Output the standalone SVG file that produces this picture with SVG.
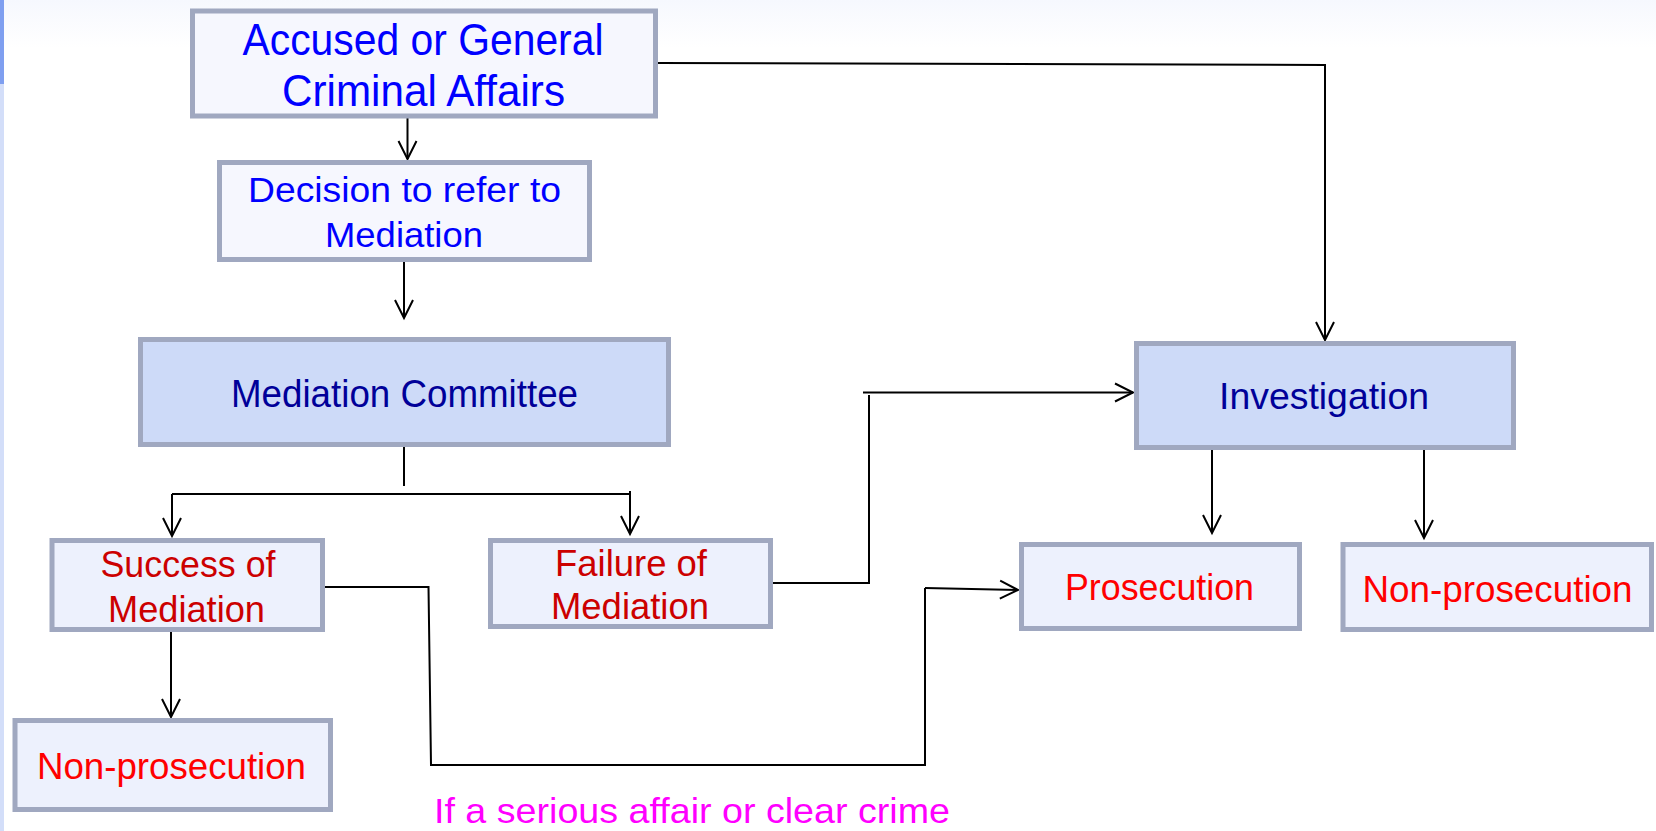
<svg xmlns="http://www.w3.org/2000/svg" width="1656" height="831" viewBox="0 0 1656 831">
  <defs>
    <linearGradient id="topband" x1="0" y1="0" x2="0" y2="1">
      <stop offset="0" stop-color="#f6f8fe"/>
      <stop offset="1" stop-color="#ffffff"/>
    </linearGradient>
    <marker id="arrow" markerUnits="userSpaceOnUse" markerWidth="24" markerHeight="24" viewBox="-20 -12 24 24" refX="0" refY="0" orient="auto" overflow="visible">
      <path d="M-18,-9 L0,0 L-18,9" fill="none" stroke="#000" stroke-width="2"/>
    </marker>
    <style>
      .box { stroke: #a0a8c0; stroke-width: 5; }
      .pale { fill: #f6f7fe; }
      .light { fill: #edf1fd; }
      .mid { fill: #cddaf8; }
      .lbl { font-family: "Liberation Sans", Arial, sans-serif; text-anchor: middle; }
      .blue { fill: #0000ff; }
      .navy { fill: #000099; }
      .dred { fill: #cc0000; }
      .red { fill: #ff0000; }
      .mag { fill: #ff00ff; }
      .wire { fill: none; stroke: #000; stroke-width: 2; }
      .arr { marker-end: url(#arrow); }
    </style>
  </defs>

  <!-- page background -->
  <rect x="0" y="0" width="1656" height="831" fill="#ffffff"/>
  <rect x="0" y="0" width="1656" height="48" fill="url(#topband)"/>
  <rect x="0" y="0" width="4" height="84" fill="#7f9ff0"/>
  <rect x="0" y="84" width="4" height="747" fill="#d3def9"/>

  <!-- connectors -->
  <g id="connectors">
    <path class="wire arr" d="M407.5,118 L407.5,159"/>
    <path class="wire arr" d="M404,262 L404,318"/>
    <path class="wire" d="M404,446 L404,486"/>
    <path class="wire" d="M172,494 L630,494"/>
    <path class="wire arr" d="M172,494 L172,536"/>
    <path class="wire arr" d="M630,491 L630,534"/>
    <path class="wire arr" d="M658,63 L1325,65 L1325,340"/>
    <path class="wire arr" d="M171,632 L171,717"/>
    <path class="wire" d="M325,587 L428.5,587 L431,765 L925,765 L925,588"/>
    <path class="wire arr" d="M925,588 L1018,590"/>
    <path class="wire" d="M773,583 L869,583"/>
    <path class="wire" d="M869,584 L869,395"/>
    <path class="wire arr" d="M863,392.5 L1133,392.5" stroke-width="3"/>
    <path class="wire arr" d="M1212,445 L1212,533"/>
    <path class="wire arr" d="M1424,450 L1424,538"/>
  </g>

  <g id="accused">
    <rect class="box pale" x="192.5" y="11" width="463" height="105"/>
    <text class="lbl blue" font-size="44" x="423" y="55" textLength="361" lengthAdjust="spacingAndGlyphs">Accused or General</text>
    <text class="lbl blue" font-size="44" x="423.5" y="106" textLength="283" lengthAdjust="spacingAndGlyphs">Criminal Affairs</text>
  </g>

  <g id="decision">
    <rect class="box pale" x="219.5" y="162.5" width="370" height="97"/>
    <text class="lbl blue" font-size="35" x="404.5" y="202" textLength="313" lengthAdjust="spacingAndGlyphs">Decision to refer to</text>
    <text class="lbl blue" font-size="35" x="404" y="247" textLength="158" lengthAdjust="spacingAndGlyphs">Mediation</text>
  </g>

  <g id="committee">
    <rect class="box mid" x="140.5" y="339.5" width="528" height="105"/>
    <text class="lbl navy" font-size="38" x="404.5" y="407" textLength="347" lengthAdjust="spacingAndGlyphs">Mediation Committee</text>
  </g>

  <g id="success">
    <rect class="box light" x="52" y="540.5" width="270.5" height="89"/>
    <text class="lbl dred" font-size="37" x="188" y="577" textLength="175" lengthAdjust="spacingAndGlyphs">Success of</text>
    <text class="lbl dred" font-size="37" x="186.5" y="622" textLength="157" lengthAdjust="spacingAndGlyphs">Mediation</text>
  </g>

  <g id="failure">
    <rect class="box light" x="490.5" y="540.5" width="280" height="86"/>
    <text class="lbl dred" font-size="37" x="631" y="576" textLength="152" lengthAdjust="spacingAndGlyphs">Failure of</text>
    <text class="lbl dred" font-size="37" x="630" y="619" textLength="158" lengthAdjust="spacingAndGlyphs">Mediation</text>
  </g>

  <g id="nonpros-left">
    <rect class="box light" x="15" y="720.5" width="315.5" height="89"/>
    <text class="lbl red" font-size="36" x="171.5" y="779" textLength="269" lengthAdjust="spacingAndGlyphs">Non-prosecution</text>
  </g>

  <g id="investigation">
    <rect class="box mid" x="1136.5" y="343.5" width="377" height="104"/>
    <text class="lbl navy" font-size="37" x="1324" y="409" textLength="210" lengthAdjust="spacingAndGlyphs">Investigation</text>
  </g>

  <g id="prosecution">
    <rect class="box light" x="1021.5" y="544.5" width="278" height="84"/>
    <text class="lbl red" font-size="36" x="1159.5" y="600" textLength="189" lengthAdjust="spacingAndGlyphs">Prosecution</text>
  </g>

  <g id="nonpros-right">
    <rect class="box light" x="1343" y="544.5" width="308.5" height="85"/>
    <text class="lbl red" font-size="36" x="1497.5" y="602" textLength="270" lengthAdjust="spacingAndGlyphs">Non-prosecution</text>
  </g>

  <text class="lbl mag" font-size="35" x="692" y="823" textLength="516" lengthAdjust="spacingAndGlyphs">If a serious affair or clear crime</text>
</svg>
